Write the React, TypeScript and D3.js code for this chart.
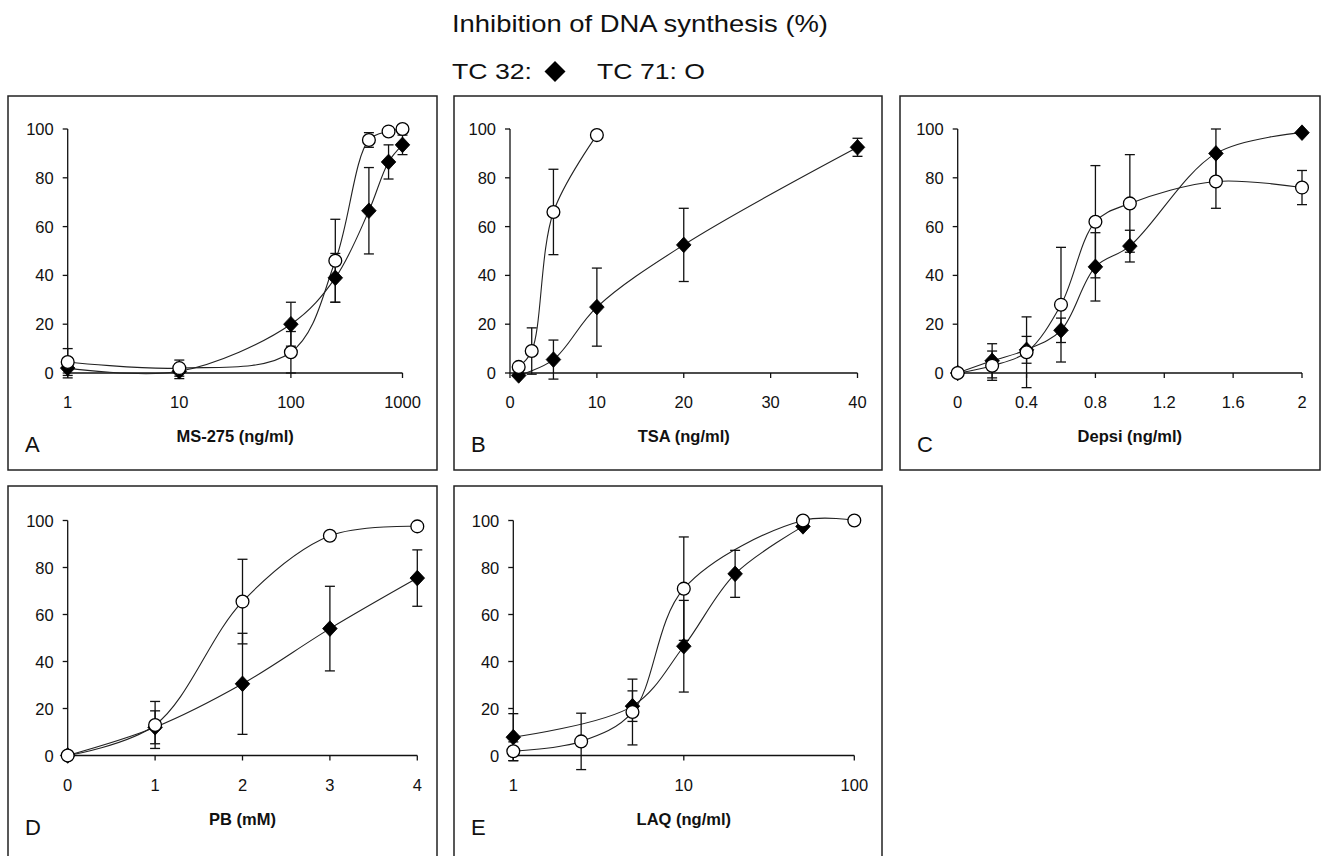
import React from 'react';
import * as d3 from 'd3';

// ---------- DATA ----------
// Panel A: MS-275 (ng/ml), log x
const msX = [1, 10, 100, 250, 500, 750, 1000];
const msTC32 = [2, 0.7, 20, 39, 66.5, 86.5, 93.5];
const msTC32Err = [4, 3, 9, 10, 17.7, 7, 4];
const msTC71 = [4.5, 2, 8.5, 46, 95.5, 99, 100];
const msTC71Err = [5.5, 3.3, 8.5, 17, 3, 0, 0];

// Panel B: TSA (ng/ml)
const tsaX32 = [1, 5, 10, 20, 40];
const tsaTC32 = [-1, 5.5, 27, 52.5, 92.5];
const tsaTC32Err = [0, 8, 16, 15, 3.7];
const tsaX71 = [1, 2.5, 5, 10];
const tsaTC71 = [2.5, 9, 66, 97.5];
const tsaTC71Err = [0, 9.5, 17.5, 0];

// Panel C: Depsi (ng/ml)
const depX = [0, 0.2, 0.4, 0.6, 0.8, 1.0, 1.5, 2];
const depTC32 = [0, 5, 9.5, 17.5, 43.5, 52, 90, 98.5];
const depTC32Err = [0, 7, 5.5, 5, 14, 6.5, 10, 0];
const depTC71 = [0, 3, 8.5, 28, 62, 69.5, 78.5, 76];
const depTC71Err = [0, 6, 14.5, 23.5, 23, 20, 11, 7];

// Panel D: PB (mM)
const pbX = [0, 1, 2, 3, 4];
const pbTC32 = [0, 12, 30.5, 54, 75.5];
const pbTC32Err = [0, 7, 21.5, 18, 12];
const pbTC71 = [0, 13, 65.5, 93.5, 97.5];
const pbTC71Err = [0, 10, 18, 0, 0];

// Panel E: LAQ (ng/ml), log x
const laqX32 = [1, 5, 10, 20, 50];
const laqTC32 = [7.8, 21, 46.5, 77.3, 97.5];
const laqTC32Err = [10, 6.5, 19.5, 10, 0];
const laqX71 = [1, 2.5, 5, 10, 50, 100];
const laqTC71 = [1.8, 6, 18.5, 71, 100, 100];
const laqTC71Err = [4, 12, 14, 22, 0, 0];

const yTicks = [0, 20, 40, 60, 80, 100];
const xTicksA = [1, 10, 100, 1000];
const xTicksB = [0, 10, 20, 30, 40];
const xTicksC = [0, 0.4, 0.8, 1.2, 1.6, 2];
const xTicksD = [0, 1, 2, 3, 4];
const xTicksE = [1, 10, 100];

const titleText = 'Inhibition of DNA synthesis (%)';
const legend32 = 'TC 32:';
const legend71 = 'TC 71: O';

type Pt = { x: number; y: number; e: number };
const zip = (xs: number[], ys: number[], es: number[]): Pt[] =>
  xs.map((x, i) => ({ x, y: ys[i], e: es[i] }));

// ---------- LAYOUT ----------
type Panel = {
  letter: string;
  box: [number, number, number, number];
  log: boolean;
  xDomain: [number, number];
  xRange: [number, number];
  yRange: [number, number];
  xTicks: number[];
  xLabel: string;
  tc32: Pt[];
  tc71: Pt[];
};

const topRow = { box: [96, 470], y: [373, 129] };
const botRow = { box: [486, 880], y: [755.5, 520.5] };

const panels: Panel[] = [
  {
    letter: 'A', box: [8, topRow.box[0], 437, topRow.box[1]], log: true,
    xDomain: [1, 1000], xRange: [67.7, 402.5], yRange: topRow.y as [number, number],
    xTicks: xTicksA, xLabel: 'MS-275 (ng/ml)',
    tc32: zip(msX, msTC32, msTC32Err), tc71: zip(msX, msTC71, msTC71Err),
  },
  {
    letter: 'B', box: [454, topRow.box[0], 882, topRow.box[1]], log: false,
    xDomain: [0, 40], xRange: [510, 857.5], yRange: topRow.y as [number, number],
    xTicks: xTicksB, xLabel: 'TSA (ng/ml)',
    tc32: zip(tsaX32, tsaTC32, tsaTC32Err), tc71: zip(tsaX71, tsaTC71, tsaTC71Err),
  },
  {
    letter: 'C', box: [900, topRow.box[0], 1320, topRow.box[1]], log: false,
    xDomain: [0, 2], xRange: [957.7, 1302], yRange: topRow.y as [number, number],
    xTicks: xTicksC, xLabel: 'Depsi (ng/ml)',
    tc32: zip(depX, depTC32, depTC32Err), tc71: zip(depX, depTC71, depTC71Err),
  },
  {
    letter: 'D', box: [8, botRow.box[0], 437, botRow.box[1]], log: false,
    xDomain: [0, 4], xRange: [67.7, 417.3], yRange: botRow.y as [number, number],
    xTicks: xTicksD, xLabel: 'PB (mM)',
    tc32: zip(pbX, pbTC32, pbTC32Err), tc71: zip(pbX, pbTC71, pbTC71Err),
  },
  {
    letter: 'E', box: [454, botRow.box[0], 882, botRow.box[1]], log: true,
    xDomain: [1, 100], xRange: [513.3, 854.3], yRange: botRow.y as [number, number],
    xTicks: xTicksE, xLabel: 'LAQ (ng/ml)',
    tc32: zip(laqX32, laqTC32, laqTC32Err), tc71: zip(laqX71, laqTC71, laqTC71Err),
  },
];

const FONT = "'Liberation Sans', Arial, Helvetica, sans-serif";
const INK = '#111';

function diamondPath(cx: number, cy: number, w: number, h: number) {
  return `M${cx},${cy - h}L${cx + w},${cy}L${cx},${cy + h}L${cx - w},${cy}Z`;
}

function PanelView({ p }: { p: Panel }) {
  const xs = p.log
    ? d3.scaleLog().domain(p.xDomain).range(p.xRange)
    : d3.scaleLinear().domain(p.xDomain).range(p.xRange);
  const ys = d3.scaleLinear().domain([0, 100]).range(p.yRange);
  const line = d3
    .line<Pt>()
    .x((d) => xs(d.x))
    .y((d) => ys(d.y))
    .curve(d3.curveCatmullRom.alpha(0.5));
  const [bx0, by0, bx1, by1] = p.box;
  const x0 = p.xRange[0];
  const y0 = ys(0);
  const midX = (p.xRange[0] + p.xRange[1]) / 2;
  const fmt = (v: number) => (p.log ? String(v) : String(+v.toFixed(1)));

  const errBars = (pts: Pt[]) =>
    pts
      .filter((d) => d.e > 0)
      .map((d, i) => {
        const cx = xs(d.x);
        const yt = ys(d.y + d.e);
        const yb = ys(d.y - d.e);
        return (
          <g key={i} stroke={INK} strokeWidth={1.3}>
            <line x1={cx} x2={cx} y1={yt} y2={yb} />
            <line x1={cx - 5} x2={cx + 5} y1={yt} y2={yt} />
            <line x1={cx - 5} x2={cx + 5} y1={yb} y2={yb} />
          </g>
        );
      });

  return (
    <g>
      <rect x={bx0} y={by0} width={bx1 - bx0} height={by1 - by0} fill="white" stroke="#222" strokeWidth={1.5} />
      {/* axes */}
      <line x1={x0} x2={x0} y1={ys(0)} y2={ys(100)} stroke={INK} strokeWidth={1.3} />
      <line x1={p.xRange[0]} x2={p.xRange[1]} y1={y0} y2={y0} stroke={INK} strokeWidth={1.3} />
      {yTicks.map((t) => (
        <g key={'y' + t}>
          <line x1={x0 - 5} x2={x0} y1={ys(t)} y2={ys(t)} stroke={INK} strokeWidth={1.3} />
          <text x={x0 - 14} y={ys(t) + 6} textAnchor="end" fontSize={16.5} fontFamily={FONT} fill={INK}>
            {t}
          </text>
        </g>
      ))}
      {p.xTicks.map((t) => (
        <g key={'x' + t}>
          <line x1={xs(t)} x2={xs(t)} y1={y0} y2={y0 + 5} stroke={INK} strokeWidth={1.3} />
          <text x={xs(t)} y={y0 + 35} textAnchor="middle" fontSize={16.5} fontFamily={FONT} fill={INK}>
            {fmt(t)}
          </text>
        </g>
      ))}
      <text x={midX} y={y0 + 69} textAnchor="middle" fontSize={16.5} fontWeight="bold" fontFamily={FONT} fill={INK}>
        {p.xLabel}
      </text>
      <text x={bx0 + 17} y={y0 + 79} fontSize={22} fontFamily={FONT} fill={INK}>
        {p.letter}
      </text>
      {/* lines */}
      <path d={line(p.tc32) || ''} fill="none" stroke="#222" strokeWidth={1.1} />
      <path d={line(p.tc71) || ''} fill="none" stroke="#222" strokeWidth={1.1} />
      {/* error bars */}
      {errBars(p.tc32)}
      {errBars(p.tc71)}
      {/* markers */}
      {p.tc32.map((d, i) => (
        <path key={'d' + i} d={diamondPath(xs(d.x), ys(d.y), 7.3, 7.8)} fill="#000" stroke="#000" strokeWidth={0.8} />
      ))}
      {p.tc71.map((d, i) => (
        <circle key={'c' + i} cx={xs(d.x)} cy={ys(d.y)} r={6.4} fill="white" stroke="#000" strokeWidth={1.3} />
      ))}
    </g>
  );
}

export default function App() {
  return (
    <svg
      width={1325}
      height={856}
      style={{ position: 'absolute', left: 0, top: 0, background: 'white' }}
    >
      <rect x={0} y={0} width={1325} height={856} fill="white" />
      <text x={452} y={32} fontSize={24} fontFamily={FONT} fill={INK} textLength={376} lengthAdjust="spacingAndGlyphs">
        {titleText}
      </text>
      <text x={452} y={79} fontSize={22} fontFamily={FONT} fill={INK} textLength={80} lengthAdjust="spacingAndGlyphs">
        {legend32}
      </text>
      <path d={diamondPath(555, 71.5, 10.5, 10.5)} fill="#000" />
      <text x={597} y={79} fontSize={22} fontFamily={FONT} fill={INK} textLength={108} lengthAdjust="spacingAndGlyphs">
        {legend71}
      </text>
      {panels.map((p) => (
        <PanelView key={p.letter} p={p} />
      ))}
    </svg>
  );
}
